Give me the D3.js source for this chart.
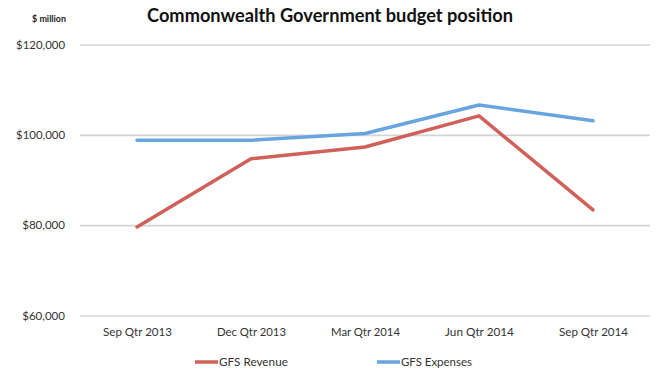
<!DOCTYPE html>
<html>
<head>
<meta charset="utf-8">
<script src="https://cdn.jsdelivr.net/npm/d3@7"></script>
<style>
  body { margin: 0; background: #fff; }
  svg { display: block; font-family: Lato, "Open Sans", sans-serif; }
</style>
</head>
<body>
<svg id="chart" width="660" height="377"></svg>
<script>
const categories = ["Sep Qtr 2013", "Dec Qtr 2013", "Mar Qtr 2014", "Jun Qtr 2014", "Sep Qtr 2014"];
const revenue = [79600, 94700, 97300, 104200, 83400];
const expenses = [98800, 98800, 100300, 106600, 103100];
const yTicks = [60000, 80000, 100000, 120000];
const seriesNames = ["GFS Revenue", "GFS Expenses"];
const seriesColors = ["#d0605a", "#68a4e0"];

(function () {
const svg = d3.select("#chart");
const mLeft = 80, mRight = 650, mTop = 44.5, mBottom = 315.5;

const x = d3.scalePoint().domain(categories).range([mLeft, mRight]).padding(0.5);
const y = d3.scaleLinear().domain([60000, 120000]).range([mBottom, mTop]);

function fit(sel, target) {
  const w = sel.node().getComputedTextLength();
  const fs = parseFloat(sel.attr("font-size"));
  if (w > 0) sel.attr("font-size", fs * target / w);
}

// grid
const yAxis = d3.axisLeft(y).tickValues(yTicks).tickSize(-(mRight - mLeft)).tickPadding(15)
  .tickFormat(d => "$" + d3.format(",")(d));
const gy = svg.append("g").attr("transform", `translate(${mLeft},0)`).call(yAxis);
gy.select(".domain").remove();
gy.selectAll(".tick line").attr("stroke", "#d4d4d4").attr("stroke-width", 1.6);
gy.selectAll(".tick text").attr("fill", "#333").attr("font-size", 11).attr("font-family", "Lato")
  .each(function(){ fit(d3.select(this), 49 * d3.select(this).text().length / 8); });

// x axis labels
const xAxis = d3.axisBottom(x).tickSize(0).tickPadding(12);
const gx = svg.append("g").attr("transform", `translate(0,${mBottom})`).call(xAxis);
gx.select(".domain").remove();
gx.selectAll(".tick text").attr("fill", "#333").attr("font-size", 11).attr("font-family", "Lato")
  .each(function(){ fit(d3.select(this), 69); });

// lines
const line = d3.line().x((d, i) => x(categories[i])).y(d => y(d));
[revenue, expenses].forEach((s, k) => {
  svg.append("path").datum(s).attr("d", line)
    .attr("fill", "none").attr("stroke", seriesColors[k]).attr("stroke-width", 3.5)
    .attr("stroke-linejoin", "round").attr("stroke-linecap", "round");
});

// title
const t = svg.append("text").attr("x", 330).attr("y", 22).attr("text-anchor", "middle")
  .attr("font-weight", "bold").attr("font-size", 16).attr("fill", "#111")
  .text("Commonwealth Government budget position");
fit(t, 366);

// unit label
const u = svg.append("text").attr("x", 66).attr("y", 22).attr("text-anchor", "end")
  .attr("font-weight", "bold").attr("font-size", 9).attr("fill", "#222").text("$ million");
fit(u, 34);

// legend
const legX = [195, 377];
seriesNames.forEach((n, k) => {
  svg.append("line").attr("x1", legX[k]).attr("x2", legX[k] + 23).attr("y1", 362).attr("y2", 362)
    .attr("stroke", seriesColors[k]).attr("stroke-width", 3.5);
  const lt = svg.append("text").attr("x", legX[k] + 24).attr("y", 366).attr("font-size", 11)
    .attr("fill", "#333").text(n);
  fit(lt, k === 0 ? 69 : 71);
});
})();
</script>
</body>
</html>
